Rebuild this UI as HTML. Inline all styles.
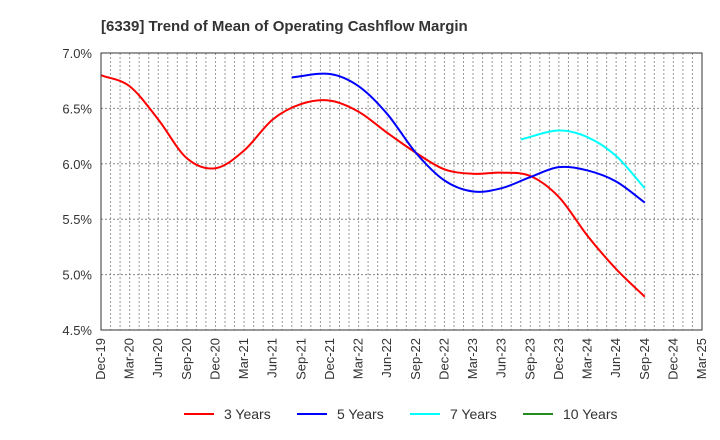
<!DOCTYPE html>
<html><head><meta charset="utf-8"><style>
body{margin:0;background:#fff}
svg{display:block;font-family:"Liberation Sans",sans-serif}
</style></head><body>
<svg id="chart" width="720" height="440">
<text x="101" y="31" font-size="15" font-weight="bold" fill="#333">[6339]  Trend of Mean of Operating Cashflow Margin</text>
<g id="grid"></g>
<g id="yaxis"></g>
<g id="xaxis"></g>
<g id="series"></g>
<rect x="101" y="53" width="601" height="277" fill="none" stroke="#333" stroke-width="1"/>
<g id="legend"></g>
</svg>
<script>
const xLabels=["Dec-19","Mar-20","Jun-20","Sep-20","Dec-20","Mar-21","Jun-21","Sep-21","Dec-21","Mar-22","Jun-22","Sep-22","Dec-22","Mar-23","Jun-23","Sep-23","Dec-23","Mar-24","Jun-24","Sep-24","Dec-24","Mar-25"];
const yTicks=[4.5,5.0,5.5,6.0,6.5,7.0];
// month index from Dec-19
const red3Months=[0,3,6,9,12,15,18,21,24,27,30,33,36,39,42,45,48,51,54,57];
const red3Values=[6.80,6.70,6.40,6.05,5.96,6.12,6.40,6.54,6.57,6.47,6.28,6.10,5.95,5.91,5.92,5.89,5.70,5.35,5.05,4.80];
const blue5Months=[20,24,27,30,33,36,39,42,45,48,51,54,57];
const blue5Values=[6.78,6.81,6.70,6.45,6.10,5.85,5.75,5.78,5.88,5.97,5.94,5.84,5.65];
const cyan7Months=[44,48,51,54,57];
const cyan7Values=[6.22,6.30,6.24,6.07,5.78];
const green10Months=[];
const green10Values=[];
const legendNames=["3 Years","5 Years","7 Years","10 Years"];
const legendColors=["#ff0000","#0000ff","#00ffff","#228b22"];

const NS="http://www.w3.org/2000/svg";
const L=101,R=702,T=53,B=330,totalMonths=63;
const xS=m=>L+(R-L)*m/totalMonths;
const yS=v=>B-(v-4.5)/2.5*(B-T);
function mk(tag,attrs,parent){const e=document.createElementNS(NS,tag);for(const k in attrs)e.setAttribute(k,attrs[k]);parent.appendChild(e);return e;}
const grid=document.getElementById('grid');
for(let m=1;m<totalMonths;m++){
  const l=mk('line',{x1:xS(m),x2:xS(m),y1:T,y2:B,stroke:'#999','stroke-width':1,'stroke-dasharray':'2,2'},grid);
  
  
}
const ya=document.getElementById('yaxis');
yTicks.forEach(v=>{
  const y=yS(v);
  if(v>4.5&&v<7){const g=mk('line',{x1:L,x2:R,y1:y,y2:y,stroke:'#888','stroke-width':1,'stroke-dasharray':'2,2'},grid);
  
  }
  const t=mk('text',{x:L-9,y:y+5,'text-anchor':'end','font-size':13,fill:'#333'},ya);
  t.textContent=v.toFixed(1)+'%';
  
  
});
const xa=document.getElementById('xaxis');
xLabels.forEach((s,i)=>{
  const x=xS(i*3);
  const t=mk('text',{x:0,y:0,transform:`translate(${x+4},${B+8}) rotate(-90)`,'text-anchor':'end','font-size':13,fill:'#333'},xa);
  t.textContent=s;
  
  
});
function smooth(pts){
  const n=pts.length;
  if(n<2)return '';
  const sl=pts.map((p,i)=>{
    const a=pts[Math.max(0,i-1)],b=pts[Math.min(n-1,i+1)];
    return (b[1]-a[1])/(b[0]-a[0]);
  });
  let d=`M${pts[0][0]},${pts[0][1]}`;
  for(let i=0;i<n-1;i++){
    const p1=pts[i],p2=pts[i+1],dx=(p2[0]-p1[0])/3;
    d+=` C${p1[0]+dx},${p1[1]+sl[i]*dx} ${p2[0]-dx},${p2[1]-sl[i+1]*dx} ${p2[0]},${p2[1]}`;
  }
  return d;
}
const ser=document.getElementById('series');
[[red3Months,red3Values,0,'series-3-years'],[blue5Months,blue5Values,1,'series-5-years'],[cyan7Months,cyan7Values,2,'series-7-years'],[green10Months,green10Values,3,'series-10-years']].forEach(([ms,vs,ci,nm])=>{
  const pts=ms.map((m,i)=>[xS(m),yS(vs[i])]);
  if(pts.length<2)return;
  const p=mk('path',{d:smooth(pts),fill:'none',stroke:legendColors[ci],'stroke-width':2},ser);
  
  
});
const lg=document.getElementById('legend');
legendNames.forEach((n,i)=>{
  const x=184+i*113;
  const l=mk('line',{x1:x,x2:x+30,y1:414,y2:414,stroke:legendColors[i],'stroke-width':2},lg);
  
  
  const t=mk('text',{x:x+40,y:419,'font-size':14,fill:'#333'},lg);
  t.textContent=n;
  
  
});
</script>
</body></html>
